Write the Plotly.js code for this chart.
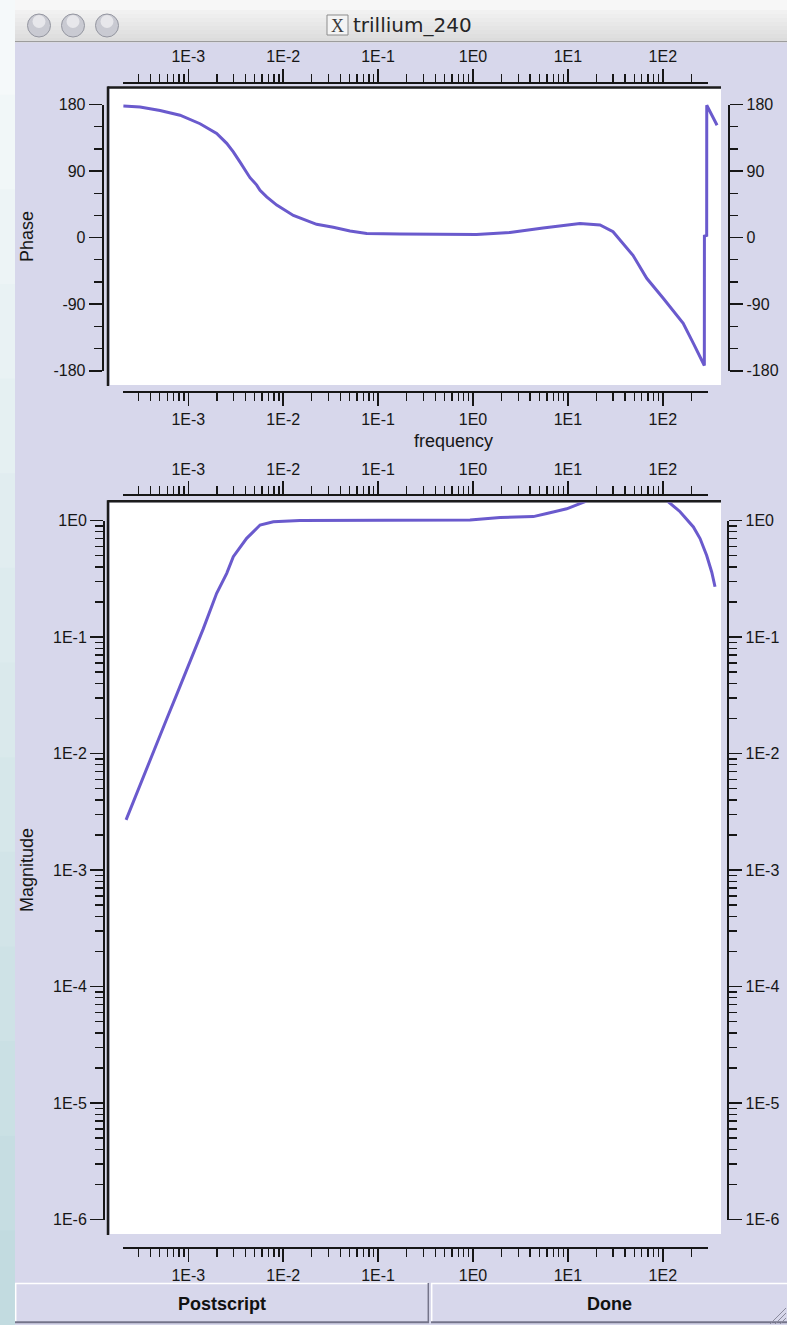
<!DOCTYPE html>
<html><head><meta charset="utf-8">
<script src="https://cdn.plot.ly/plotly-3.0.1.min.js"></script>
<style>html,body{margin:0;padding:0;overflow:hidden;background:#d7d7eb;}#chart{width:787px;height:1325px;}</style>
</head><body><div id="chart"></div>
<script>
// ---------------- data ----------------
const phaseFreq = [2.07e-4, 3.10e-4, 5.04e-4, 8.18e-4, 1.33e-3, 1.99e-3, 2.54e-3, 2.98e-3, 3.51e-3, 4.47e-3,
  5.26e-3, 5.70e-3, 6.70e-3, 8.55e-3, 1.28e-2, 2.25e-2, 3.37e-2, 5.06e-2, 7.59e-2, 0.170, 1.09, 2.45, 5.47,
  9.71, 13.4, 21.8, 29.9, 48.5, 67.7, 101, 164, 210, 274, 274.5, 290, 290.5, 373];
const phaseDeg = [178, 176.7, 172, 165.5, 154, 141, 127.5, 116, 102, 81,
  71, 64, 55, 44, 30, 18, 14, 9, 5.6, 4.7, 4.3, 7, 13,
  17, 19, 17, 8, -24, -55, -82, -116, -143, -173, 2, 3, 179, 152];
const magFreq = [2.21e-4, 2.63e-4, 3.64e-4, 4.28e-4, 5.92e-4, 7.54e-4, 9.62e-4, 1.23e-3, 1.44e-3, 1.99e-3,
  2.54e-3, 2.98e-3, 4.12e-3, 5.70e-3, 7.87e-3, 1.50e-2, 0.170, 0.93, 1.93, 4.32, 5.99, 9.71, 15.1,
  25, 40, 60, 85, 114, 152, 210, 247, 290, 328, 355];
const magValue = [2.69e-3, 3.85e-3, 7.3e-3, 1.05e-2, 1.98e-2, 3.2e-2, 5.21e-2, 8.4e-2, 0.118, 0.237,
  0.352, 0.489, 0.703, 0.914, 0.977, 1.0, 1.0, 1.01, 1.06, 1.08, 1.15, 1.26, 1.45,
  2.0, 2.6, 2.6, 2.0, 1.45, 1.19, 0.88, 0.70, 0.50, 0.36, 0.27];

const freqTickVals = [1e-3, 1e-2, 1e-1, 1, 10, 100];
const freqTickText = ['1E-3', '1E-2', '1E-1', '1E0', '1E1', '1E2'];
const phaseTickVals = [-180, -90, 0, 90, 180];
const phaseTickText = ['-180', '-90', '0', '90', '180'];
const phaseMinorVals = [-150, -120, -60, -30, 30, 60, 120, 150];
const magTickVals = [1e-6, 1e-5, 1e-4, 1e-3, 1e-2, 1e-1, 1];
const magTickText = ['1E-6', '1E-5', '1E-4', '1E-3', '1E-2', '1E-1', '1E0'];

const windowTitle = 'trillium_240';
const phaseTitle = 'Phase';
const magTitle = 'Magnitude';
const freqTitle = 'frequency';
const buttonLabels = ['Postscript', 'Done'];

// ---------------- geometry helpers ----------------
const W = 787, H = 1325;
const PX = p => p / W;
const PY = p => 1 - p / H;
const X0 = 473, DX = 94.9;               // pixel of 1E0 and pixels per decade
const lf = p => (p - X0) / DX;           // log10(freq) at pixel
const PH0 = 237.6, PHK = 360 / 266.2;    // phase: 0 deg pixel, deg per pixel
const deg = p => (PH0 - p) * PHK;
const M0 = 520.5, DM = 116.5;            // magnitude: 1E0 pixel, pixels per decade
const lm = p => (M0 - p) / DM;

function logMinor(d0, d1) {
  const out = [];
  for (let d = d0; d <= d1; d++) for (let m = 2; m <= 9; m++) out.push(m * Math.pow(10, d));
  return out;
}
const freqMinor = logMinor(-4, 2);
const magMinor = logMinor(-6, -1);

const INK = '#161616';
const font = {family: 'Liberation Sans, Arial, sans-serif', size: 16, color: INK};
const deco = {
  showgrid: false, zeroline: false, showline: true, linecolor: INK, linewidth: 2,
  ticks: 'outside', ticklen: 13, tickwidth: 1.6, tickcolor: INK, tickfont: font,
  fixedrange: true, autorange: false, anchor: 'free'
};
function freqAxis(ypx, side) {
  return Object.assign({}, deco, {
    type: 'log', side: side, position: PY(ypx),
    domain: [PX(123.3), PX(708)], range: [lf(123.3), lf(708)],
    tickmode: 'array', tickvals: freqTickVals, ticktext: freqTickText,
    minor: {tickmode: 'array', tickvals: freqMinor, ticklen: 8, tickwidth: 1.4, tickcolor: INK, ticks: 'outside', showgrid: false}
  });
}
function phaseAxis(xpx, side) {
  return Object.assign({}, deco, {
    side: side, position: PX(xpx),
    domain: [PY(370.7), PY(104.5)], range: [-180, 180],
    tickmode: 'array', tickvals: phaseTickVals, ticktext: phaseTickText,
    minor: {tickmode: 'array', tickvals: phaseMinorVals, ticklen: 8, tickwidth: 1.4, tickcolor: INK, ticks: 'outside', showgrid: false}
  });
}
function magAxis(xpx, side) {
  return Object.assign({}, deco, {
    type: 'log', side: side, position: PX(xpx),
    domain: [PY(M0 + 6 * DM), PY(M0)], range: [-6, 0],
    tickmode: 'array', tickvals: magTickVals, ticktext: magTickText,
    minor: {tickmode: 'array', tickvals: magMinor, ticklen: 8, tickwidth: 1.4, tickcolor: INK, ticks: 'outside', showgrid: false}
  });
}

// ---------------- shapes ----------------
const shapes = [];
function rect(x0, y0, x1, y1, fill, line, lw) {
  shapes.push({type: 'rect', xref: 'paper', yref: 'paper', x0: PX(x0), x1: PX(x1), y0: PY(y1), y1: PY(y0),
    fillcolor: fill, line: {color: line || 'rgba(0,0,0,0)', width: lw || 0}, layer: 'below'});
}
function seg(x0, y0, x1, y1, color, w, layer) {
  shapes.push({type: 'line', xref: 'paper', yref: 'paper', x0: PX(x0), x1: PX(x1), y0: PY(y0), y1: PY(y1),
    line: {color: color, width: w}, layer: layer || 'below'});
}
function circle(cx, cy, r, fill, line) {
  shapes.push({type: 'circle', xref: 'paper', yref: 'paper', x0: PX(cx - r), x1: PX(cx + r), y0: PY(cy + r), y1: PY(cy - r),
    fillcolor: fill, line: {color: line, width: 1}, layer: 'above'});
}
function mix(a, b, t) {
  const pa = a.match(/\w\w/g).map(h => parseInt(h, 16)), pb = b.match(/\w\w/g).map(h => parseInt(h, 16));
  return 'rgb(' + pa.map((v, i) => Math.round(v + (pb[i] - v) * t)).join(',') + ')';
}
// desktop strip at the left
const bands = 14;
for (let i = 0; i < bands; i++) {
  rect(0, i * H / bands, 15, (i + 1) * H / bands + 1, mix('f5f9fa', 'c2dbe0', i / (bands - 1)));
}
// title bar
rect(15, 0, W, 10, '#f7f7f7');
for (let i = 0; i < 8; i++) rect(15, 10 + i * 4, W, 14 + i * 4 + 0.5, mix('f1f1f1', 'dcdcdc', i / 7));
seg(15, 41.5, W, 41.5, '#9c9c9c', 1.2);
[39, 73, 107].forEach(cx => {
  circle(cx, 25.5, 11.5, '#c9cad2', '#9496a0');
  circle(cx, 21.5, 6.5, 'rgba(255,255,255,0.55)', 'rgba(255,255,255,0)');
});
rect(327, 15, 348, 35, '#f4f4f4', '#8c8c8c', 1);
// plot panels (white areas with sunken dark top/left frame)
rect(110, 88.5, 721, 385, '#ffffff');
seg(107.5, 87.5, 721, 87.5, '#1c1c1c', 2.5);
seg(108, 86.5, 108, 386, '#1c1c1c', 2.5);
rect(110, 502.5, 721, 1234, '#ffffff');
seg(107.5, 501.3, 721, 501.3, '#1c1c1c', 2.5);
seg(108, 500.3, 108, 1235, '#1c1c1c', 2.5);
// buttons
rect(15, 1283, 428.5, 1323, '#d7d7eb');
rect(431, 1283, W, 1323, '#d7d7eb');
seg(15, 1283.5, 428, 1283.5, '#ffffff', 1.5);
seg(15.7, 1283, 15.7, 1323, '#ffffff', 1.5);
seg(15, 1322.3, 429, 1322.3, '#74748a', 2);
seg(428.3, 1283, 428.3, 1323, '#74748a', 1.5);
seg(431, 1283.5, W, 1283.5, '#ffffff', 1.5);
seg(431.7, 1283, 431.7, 1323, '#ffffff', 1.5);
seg(431, 1322.3, W, 1322.3, '#74748a', 2);
// resize grip
[[770, 786], [775, 786], [780, 786]].forEach(([a, b]) => seg(a, 1324, b, 1324 - (b - a), '#8a8a9c', 1, 'above'));

// ---------------- annotations (text) ----------------
const ann = (x, y, text, opts) => Object.assign({xref: 'paper', yref: 'paper', x: PX(x), y: PY(y), text: text,
  showarrow: false, xanchor: 'center', yanchor: 'middle', font: font}, opts || {});
const annotations = [
  ann(412, 25, windowTitle, {xanchor: 'center', font: {family: 'DejaVu Sans, sans-serif', size: 20, color: '#262626'}}),
  ann(337.5, 25.5, 'X', {font: {family: 'Liberation Serif, DejaVu Serif, serif', size: 18, color: '#3a3a3a'}}),
  ann(27, 237, phaseTitle, {textangle: -90, font: Object.assign({}, font, {size: 18})}),
  ann(27, 870, magTitle, {textangle: -90, font: Object.assign({}, font, {size: 18})}),
  ann(453, 441, freqTitle, {font: Object.assign({}, font, {size: 18})}),
  ann(222, 1303.5, '<b>' + buttonLabels[0] + '</b>', {font: Object.assign({}, font, {size: 18, color: '#111'})}),
  ann(609, 1303.5, '<b>' + buttonLabels[1] + '</b>', {font: Object.assign({}, font, {size: 18, color: '#111'})})
];

// ---------------- traces ----------------
const lineStyle = {color: '#6a5acd', width: 3};
const ghost = {color: 'rgba(0,0,0,0)', width: 0};
const data = [
  {x: phaseFreq, y: phaseDeg, xaxis: 'x', yaxis: 'y', type: 'scatter', mode: 'lines', line: lineStyle, hoverinfo: 'skip', showlegend: false},
  {x: magFreq, y: magValue, xaxis: 'x4', yaxis: 'y4', type: 'scatter', mode: 'lines', line: lineStyle, hoverinfo: 'skip', showlegend: false},
  // invisible copies that attach the tick-only axes around each panel
  {x: phaseFreq, y: phaseDeg, xaxis: 'x2', yaxis: 'y2', type: 'scatter', mode: 'lines', line: ghost, opacity: 0, hoverinfo: 'skip', showlegend: false},
  {x: phaseFreq, y: phaseDeg, xaxis: 'x3', yaxis: 'y3', type: 'scatter', mode: 'lines', line: ghost, opacity: 0, hoverinfo: 'skip', showlegend: false},
  {x: magFreq, y: magValue, xaxis: 'x5', yaxis: 'y5', type: 'scatter', mode: 'lines', line: ghost, opacity: 0, hoverinfo: 'skip', showlegend: false},
  {x: magFreq, y: magValue, xaxis: 'x6', yaxis: 'y6', type: 'scatter', mode: 'lines', line: ghost, opacity: 0, hoverinfo: 'skip', showlegend: false}
];

const hidden = {visible: false, fixedrange: true, autorange: false, showgrid: false, zeroline: false};
const layout = {
  width: W, height: H, margin: {l: 0, r: 0, t: 0, b: 0, pad: 0},
  paper_bgcolor: '#d7d7eb', plot_bgcolor: 'rgba(0,0,0,0)', showlegend: false,
  font: font,
  // data axes (aligned with the white areas)
  xaxis: Object.assign({}, hidden, {type: 'log', domain: [PX(110), PX(721)], range: [lf(110), lf(721)], anchor: 'y'}),
  yaxis: Object.assign({}, hidden, {domain: [PY(385), PY(88.5)], range: [deg(385), deg(88.5)], anchor: 'x'}),
  xaxis4: Object.assign({}, hidden, {type: 'log', domain: [PX(110), PX(721)], range: [lf(110), lf(721)], anchor: 'y4'}),
  yaxis4: Object.assign({}, hidden, {type: 'log', domain: [PY(1234), PY(502.5)], range: [lm(1234), lm(502.5)], anchor: 'x4'}),
  // tick axes drawn beside the panels
  xaxis2: freqAxis(82.7, 'top'),
  xaxis3: freqAxis(392, 'bottom'),
  xaxis5: freqAxis(495, 'top'),
  xaxis6: freqAxis(1248, 'bottom'),
  yaxis2: phaseAxis(102.7, 'left'),
  yaxis3: phaseAxis(729.3, 'right'),
  yaxis5: magAxis(104, 'left'),
  yaxis6: magAxis(728.3, 'right'),
  shapes: shapes,
  annotations: annotations
};

Plotly.newPlot('chart', data, layout, {staticPlot: true, displayModeBar: false});
</script>
</body></html>
